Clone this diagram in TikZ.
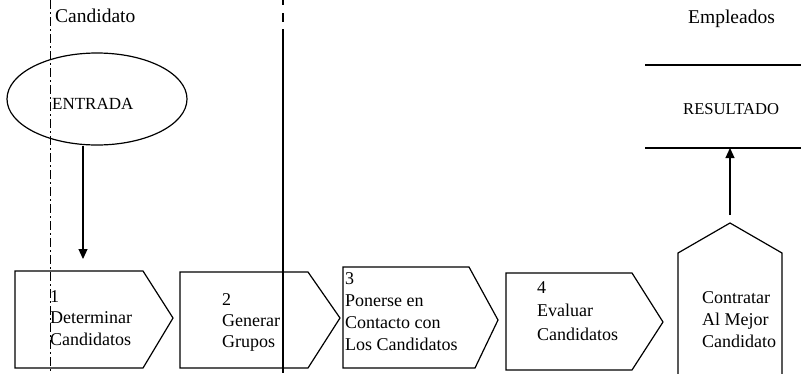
\documentclass[tikz,border=0pt]{standalone}
\usepackage{fontspec}
\setmainfont{Liberation Serif}
\usetikzlibrary{arrows.meta,shapes.geometric}
\begin{document}
\begin{tikzpicture}[x=1pt,y=-1pt,
  shp/.style={draw=black,line width=1.2pt,line join=miter},
  lbl/.style={anchor=base west,align=left,inner sep=0pt,font=\fontsize{18}{22}\selectfont},
  head/.style={anchor=base west,inner sep=0pt,font=\fontsize{19.5}{22}\selectfont},
  arr/.style={draw=black,line width=1.2pt,-{Triangle[length=10pt,width=9pt]}}]
\useasboundingbox (0,0) rectangle (801,373);
\begin{scope}
\clip (0,0) rectangle (801,373);
% lane lines
\draw[line width=1pt,dash pattern=on 9pt off 3pt on 2pt off 3pt] (50,0) -- (50,373);
\draw[line width=1.1pt] (283,0) -- (283,5) (283,13) -- (283,22) (283,29) -- (283,373);
% headers
\node[head] (hcand) at (55,22) {Candidato};
\node[head] (hemp) at (688,23) {Empleados};
% input ellipse
\node[ellipse,shp,minimum width=180pt,minimum height=92pt,inner sep=0pt] (ent) at (97,99) {};
\node[anchor=base west,inner sep=0pt,font=\fontsize{17}{20}\selectfont] (entt) at (52,109) {ENTRADA};
% result box
\coordinate (rtl) at (645,65);
\coordinate (rtr) at (801,65);
\coordinate (rbl) at (645,148);
\coordinate (rbr) at (801,148);
\draw[line width=1.2pt] (rtl) -- (rtr) (rbl) -- (rbr);
\node[anchor=base west,inner sep=0pt,font=\fontsize{16.6}{20}\selectfont] (res) at (683,114) {RESULTADO};
\coordinate (resb) at (730,148);
% process shapes
\draw[shp] (15,271) coordinate (b1) -- (143,271) -- (173,318) -- (143,368) -- (15,368) -- cycle;
\draw[shp] (180,272) coordinate (b2) -- (308,272) -- (340,318) -- (308,368) -- (180,368) -- cycle;
\draw[shp] (343,267) coordinate (b3) -- (469,267) -- (498,320) -- (475,368) -- (343,368) -- cycle;
\draw[shp] (506,273) coordinate (b4) -- (632,273) -- (663,322) -- (632,370) -- (506,370) -- cycle;
\draw[shp] (678,380) -- (678,253) -- (730,223) coordinate (b5) -- (782,253) -- (782,380);
% texts (anchor at baseline of last line)
\node[lbl,font=\fontsize{18}{21.5}\selectfont] (t1) at (50,345) {1\\Determinar\\Candidatos};
\node[lbl,font=\fontsize{18}{21}\selectfont] (t2) at (222,347) {2\\Generar\\Grupos};
\node[lbl,font=\fontsize{18}{22}\selectfont] (t3) at (345,350) {3\\Ponerse en\\Contacto con\\Los Candidatos};
\node[lbl,font=\fontsize{18}{23.5}\selectfont] (t4) at (537,340) {4\\Evaluar\\Candidatos};
\node[lbl] (t5) at (702,347) {Contratar\\Al Mejor\\Candidato};
% connectors
\coordinate (b1in) at (83,271);
\draw[arr,shorten >=12pt] (ent.south -| b1in) -- (b1in);
\draw[arr,shorten <=8pt] (b5) -- (resb);
\end{scope}
\end{tikzpicture}
\end{document}
